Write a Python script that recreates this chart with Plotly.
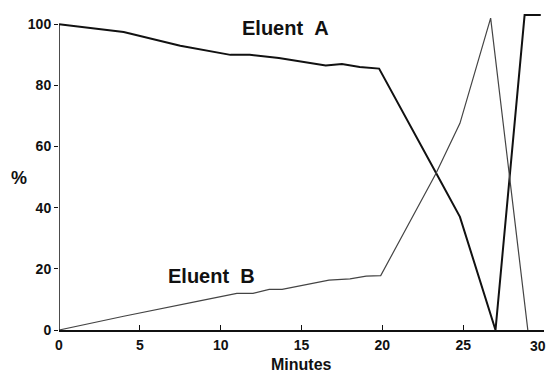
import plotly.graph_objects as go

# Eluent A (% vs minutes)
a_minutes = [0, 4, 7.5, 10.6, 11.8, 13.6, 16.5, 17.5, 18.6, 19.8, 23.3, 24.8, 27.0, 28.8, 29.8]
a_percent = [100, 97.5, 93, 90, 90, 89, 86.5, 87, 86, 85.5, 51.6, 37, 0, 103, 103]

# Eluent B (% vs minutes)
b_minutes = [0, 4, 8.7, 11, 12, 13, 13.8, 16.7, 18, 19, 19.9, 23.3, 24.8, 26.7, 29.0]
b_percent = [0, 4.5, 9.5, 12, 12, 13.3, 13.3, 16.3, 16.7, 17.6, 17.8, 51, 67.6, 102, 0]

x_ticks = [0, 5, 10, 15, 20, 25, 30]
y_ticks = [0, 20, 40, 60, 80, 100]

FONT = "Liberation Sans, Arial, sans-serif"
INK = "#111111"

fig = go.Figure()
fig.add_trace(go.Scatter(x=a_minutes, y=a_percent, mode="lines",
                         line=dict(color=INK, width=2), showlegend=False))
fig.add_trace(go.Scatter(x=b_minutes, y=b_percent, mode="lines",
                         line=dict(color="#444444", width=1.2), showlegend=False))

def label(x, y, text, size, ref="data", xanchor="center"):
    kw = dict(xanchor=xanchor, yanchor="middle")
    if ref == "paper":
        kw.update(xref="paper", yref="paper")
    fig.add_annotation(x=x, y=y, text=text, showarrow=False,
                       font=dict(family=FONT, size=size, color=INK), **kw)

label(13.98, 98.9, "<b>Eluent&nbsp;&nbsp;A</b>", 20)
label(9.43, 17.7, "<b>Eluent&nbsp;&nbsp;B</b>", 20)
label(0.5, -0.109, "<b>Minutes</b>", 16, ref="paper")
label(-0.0825, 0.4735, "<b>%</b>", 18, ref="paper")
label(1.009, -0.05, f"<b>{x_ticks[-1]}</b>", 14, ref="paper", xanchor="right")

# y axis line only up to 100 %
fig.add_shape(type="line", xref="x", yref="y", x0=0, x1=0, y0=0, y1=y_ticks[-1],
              line=dict(color=INK, width=1.5))

fig.update_layout(
    width=549, height=374,
    margin=dict(l=59, r=5, t=9, b=44, autoexpand=False),
    paper_bgcolor="white", plot_bgcolor="white",
    font=dict(family=FONT, color=INK),
    xaxis=dict(range=[0, 30], tickvals=x_ticks, ticktext=[f"<b>{v}</b>" for v in x_ticks],
               ticks="inside", ticklen=5, tickcolor=INK, showline=True,
               linecolor=INK, linewidth=1.5, showgrid=False, zeroline=False,
               tickfont=dict(size=14), ticklabelstandoff=1),
    yaxis=dict(range=[0, 105], tickvals=y_ticks, ticktext=[f"<b>{v}</b>" for v in y_ticks],
               ticks="outside", ticklen=4, tickcolor=INK, showline=False,
               showgrid=False, zeroline=False, tickfont=dict(size=14)),
)

fig.write_html("out.html", config={"displayModeBar": False},
               post_script="document.body.style.margin='0';document.body.style.overflow='hidden';")
